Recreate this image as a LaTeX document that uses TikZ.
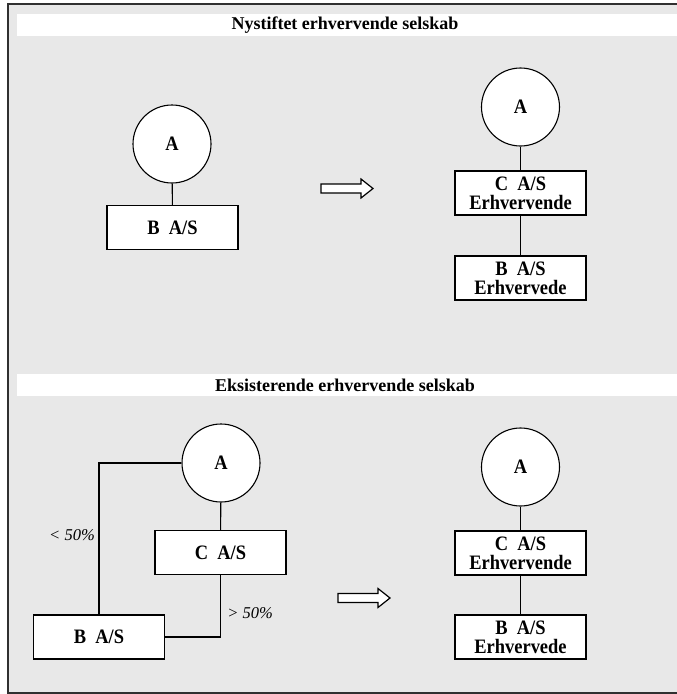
\documentclass[tikz,border=0pt]{standalone}
\usepackage{fontspec}
\setmainfont{Liberation Serif}
\newfontfamily\boxfont[FakeStretch=0.9]{Liberation Serif}
\definecolor{panelgray}{HTML}{E8E8E8}
\definecolor{framecol}{HTML}{303030}
\begin{document}
\begin{tikzpicture}[x=1pt,y=-1pt,
  boxnode/.style={draw=black, line width=1.3pt, fill=white, minimum width=131pt, minimum height=44pt, inner sep=0pt, align=center, font=\boxfont\fontsize{20.5}{19}\selectfont\bfseries},
  circnode/.style={draw=black, line width=1.1pt, fill=white, circle, minimum size=78pt, inner sep=0pt, font=\boxfont\fontsize{20.5}{19}\selectfont\bfseries},
  link/.style={draw=black, line width=1.1pt},
  pct/.style={font=\fontsize{16.5}{18}\selectfont\itshape},
  title/.style={font=\fontsize{18}{18}\selectfont\bfseries},
  fatarrow/.style={draw=black, line width=1.2pt, fill=white, line join=miter}]
\useasboundingbox (0,0) rectangle (677,694);
% panel and frame
\fill[panelgray] (8,4) rectangle (677,693);
\draw[framecol, line width=1.8pt] (677,4) -- (8,4) -- (8,693) -- (677,693);
% header bands
\fill[white] (17,14) rectangle (677,36);
\fill[white] (17,374) rectangle (677,396);
\node[title] (t1) at (345,25) {Nystiftet erhvervende selskab};
\node[title] (t2) at (345,385) {Eksisterende erhvervende selskab};
% top left
\node[circnode] (a1) at (172,144) {A};
\node[boxnode] (b1) at (172.5,227.5) {B\ \ A/S};
\draw[link] (a1) -- (b1);
% top arrow
\draw[fatarrow] (321,184) -- (361,184) -- (361,179) -- (373,188.5) -- (361,198) -- (361,193) -- (321,193) -- cycle;
% top right
\node[circnode] (a2) at (520.5,107) {A};
\node[boxnode] (c2) at (520.5,193) {C\ \ A/S\\Erhvervende};
\node[boxnode] (b2) at (520.5,278) {B\ \ A/S\\Erhvervede};
\draw[link] (a2) -- (c2);
\draw[link] (c2) -- (b2);
% bottom left
\node[circnode] (a3) at (221,463) {A};
\node[boxnode] (c3) at (220.5,552.5) {C\ \ A/S};
\node[boxnode] (b3) at (99,637) {B\ \ A/S};
\draw[link] (a3) -- (c3);
\draw[link] (a3.west) -| (b3.north);
\draw[link] (c3.south) |- (b3.east);
\node[pct] (p1) at (72,535) {\textless\ 50\%};
\node[pct] (p2) at (250,613) {\textgreater\ 50\%};
% bottom arrow
\draw[fatarrow] (338,593.5) -- (378,593.5) -- (378,588.5) -- (390,598) -- (378,607.5) -- (378,602.5) -- (338,602.5) -- cycle;
% bottom right
\node[circnode] (a4) at (520.5,467) {A};
\node[boxnode] (c4) at (520.5,553) {C\ \ A/S\\Erhvervende};
\node[boxnode] (b4) at (520.5,637) {B\ \ A/S\\Erhvervede};
\draw[link] (a4) -- (c4);
\draw[link] (c4) -- (b4);
\end{tikzpicture}
\end{document}
